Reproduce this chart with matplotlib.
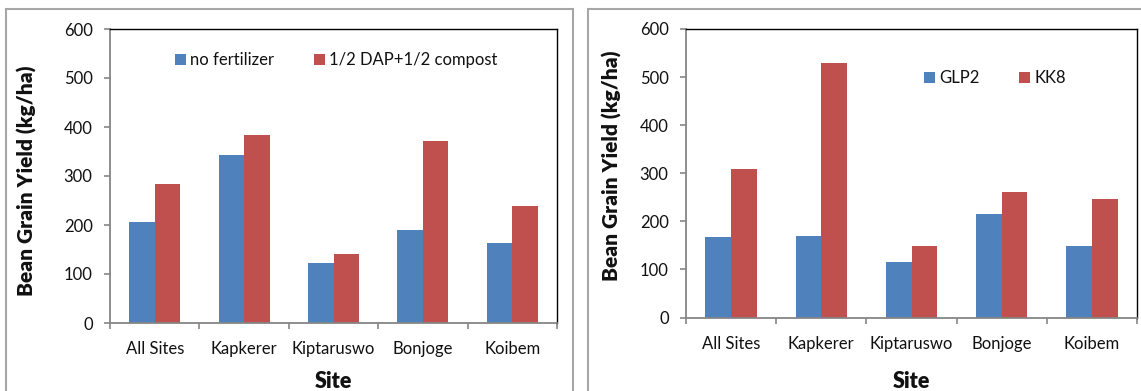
import numpy as np
import matplotlib
matplotlib.use('Agg')
import matplotlib.pyplot as plt
from matplotlib.patches import Rectangle

# sites
sites = ['All Sites', 'Kapkerer', 'Kiptaruswo', 'Bonjoge', 'Koibem']

# fertilizer trial (kg/ha)
no_fertilizer = [206, 342, 123, 190, 164]
dap_compost = [284, 383, 140, 372, 239]

# variety trial (kg/ha)
glp2 = [167, 170, 116, 215, 148]
kk8 = [308, 530, 148, 260, 246]

blue = '#4F81BD'
red = '#C0504D'
axgray = '#868686'
framegray = '#A6A6A6'

W, H = 1141, 391
plt.rcParams['font.family'] = 'Lato'
plt.rcParams['text.color'] = '#111111'
plt.rcParams['xtick.labelcolor'] = '#111111'
plt.rcParams['ytick.labelcolor'] = '#111111'
fig = plt.figure(figsize=(W / 100.0, H / 100.0), dpi=100)


def fx(x):
    return x / W


def fy(y):
    return 1.0 - y / H


def panel(box, a, b, names, legxy, ylabx):
    x0, y0, x1, y1 = box
    ax = fig.add_axes([fx(x0), fy(y1), fx(x1 - x0), (y1 - y0) / H])
    x = np.arange(len(sites))
    w = 1 / 3.5
    ax.bar(x - w / 2, a, w, color=blue, label=names[0])
    ax.bar(x + w / 2, b, w, color=red, label=names[1])
    ax.set_xlim(-0.5, len(sites) - 0.5)
    ax.set_ylim(0, 600)
    ax.set_yticks(range(0, 601, 100))
    ax.set_xticks(x)
    ax.set_xticklabels(sites)
    ax.set_xticks(np.arange(-0.5, len(sites), 1), minor=True)
    ax.tick_params(axis='x', which='major', length=0, pad=13, labelsize=12)
    ax.tick_params(axis='x', which='minor', length=4, width=1.2, color=axgray)
    ax.tick_params(axis='y', length=4.5, width=1.2, color=axgray, pad=8,
                   labelsize=12)
    for s in ['left', 'bottom']:
        ax.spines[s].set_color(axgray)
        ax.spines[s].set_linewidth(1.3)
    for s in ['top', 'right']:
        ax.spines[s].set_color('black')
        ax.spines[s].set_linewidth(1.0)

    ax.legend(loc='center', bbox_to_anchor=(fx(legxy[0]), fy(legxy[1])),
              bbox_transform=fig.transFigure, ncol=2, frameon=False,
              fontsize=12, handlelength=0.65, handleheight=0.65,
              handletextpad=0.25, columnspacing=2.4, borderpad=0)

    fig.text(fx(ylabx[0]), fy(ylabx[1]), 'Bean Grain Yield (kg/ha)',
             rotation=90, ha='center', va='center', fontsize=15,
             fontweight='heavy')
    fig.text(fx((x0 + x1) / 2), fy(388), 'Site', ha='center',
             va='baseline', fontsize=15.5, fontweight='heavy')
    return ax


# panel frames
fig.add_artist(Rectangle((fx(6), fy(400)), fx(573 - 6), (400 - 9) / H,
                         transform=fig.transFigure, fill=False,
                         ec=framegray, lw=1.5))
fig.add_artist(Rectangle((fx(588), fy(400)), fx(1160 - 588), (400 - 9) / H,
                         transform=fig.transFigure, fill=False,
                         ec=framegray, lw=1.5))

panel((110, 29, 557, 323), no_fertilizer, dap_compost,
      ['no fertilizer', '1/2 DAP+1/2 compost'], (336, 60), (27, 181))
panel((686, 29, 1137, 317.5), glp2, kk8,
      ['GLP2', 'KK8'], (995, 78), (612, 166))

fig.savefig('out.png', dpi=100)
